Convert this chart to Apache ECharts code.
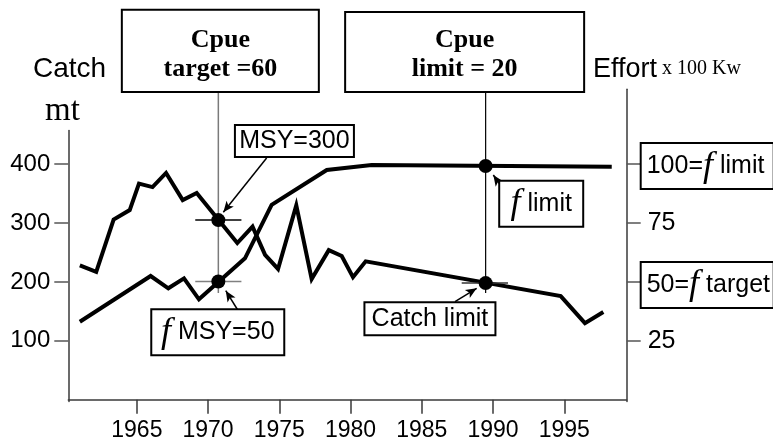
<!DOCTYPE html>
<html>
<head>
<meta charset="utf-8">
<script src="https://cdn.jsdelivr.net/npm/echarts@6.0.0/dist/echarts.min.js"></script>
<style>
html,body{margin:0;padding:0;background:#fff;}
#chart{width:773px;height:448px;}
</style>
</head>
<body>
<div id="chart"></div>
<script>
// ---------- data ----------
// Catch (mt), left axis: [year, catch]
const catchPoints = [
  [1961.0,228],[1962.15,217],[1963.37,306],[1964.5,322],[1965.15,367],[1966.1,361],
  [1967.05,385],[1968.22,339],[1969.2,351],[1972.05,266],[1973.12,294],[1974.0,246],
  [1974.91,222],[1976.19,330],[1977.27,205],[1978.47,254],[1979.38,244],[1980.17,208],
  [1981.06,235],[1994.75,176],[1996.45,130],[1997.74,149]
];
// Effort (x 100 Kw), right axis: [year, effort]
const effortPoints = [
  [1961.0,33.1],[1965.97,52.5],[1967.21,47.3],[1968.31,51.5],[1969.36,42.6],
  [1972.59,60.0],[1974.46,82.7],[1978.33,97.5],[1981.48,99.6],[1998.33,98.9]
];
const yearTicks = [1965,1970,1975,1980,1985,1990,1995];
const catchTicks = [100,200,300,400];
const effortTicks = [25,50,75,100];
const effortPlainLabels = [25,75];
const effortBoxLabels = [100,50];
// reference years (MSY / limit) and reference values
const refYears = [1970.72, 1989.48];
const catchRefValues = [305, 198];      // MSY=300, Catch limit
const effortRefValues = [50.2, 99.2];   // f MSY, f limit
const refLineEffort = [131, 45.3];      // vertical guide from box to below the dots
const cpueTexts = ['{a|Cpue}\n{a|target =60}', '{a|Cpue}\n{a|limit = 20}'];
// annotation anchors (data coords)
const msyLabelAt = [1976.06, 439.4];
const catchLimitLabelAt = [1985.57, 137.6];
const fMsyLabelAt = [1970.68, 28.66];
const fLimitLabelAt = [1993.38, 83.2];
// arrows [tail, head]
const msyArrow = [[1974.11, 410.4],[1971.07, 318.2]];
const catchLimitArrow = [[1987.33, 166.4],[1988.85, 189.2]];
const fMsyArrow = [[1972.08, 38.09],[1971.24, 46.28]];
const fLimitArrow = [[1990.42, 91.86],[1990.02, 95.39]];

// ---------- chart ----------
const X_MIN = 1960.19, X_MAX = 1999.38;
const SANS = 'Liberation Sans', SERIF = 'Liberation Serif';
const axisColor = '#3a3a3a';
const chart = echarts.init(document.getElementById('chart'), null, {renderer:'canvas'});

const lineBase = {type:'line', symbol:'none', showSymbol:false, silent:true, animation:false, clip:false};
const half = 1.62;

const boxLabel = (extra) => Object.assign({
  show:true, position:'inside', color:'#000', fontFamily:SANS, fontSize:25,
  backgroundColor:'#fff', borderColor:'#000', borderWidth:2, align:'center', opacity:1
}, extra);

const fRich = {
  t:{fontFamily:SANS, fontSize:25, lineHeight:38, color:'#000'},
  f:{fontFamily:SERIF, fontStyle:'italic', fontSize:36, lineHeight:38, color:'#000'}
};

const arrowLine = (pair) => [{coord:pair[0], symbol:'none'}, {coord:pair[1], symbol:'arrow'}];
const solidItem = {color:'#000', opacity:1};

chart.setOption({
  animation:false,
  textStyle:{fontFamily:SANS},
  grid:[
    {left:68.3, right:146.3, bottom:46.5, top:130.5},
    {left:68.3, right:146.3, bottom:46.5, top:89.3}
  ],
  xAxis:[
    {type:'value', gridIndex:0, min:X_MIN, max:X_MAX,
     axisLine:{show:true, lineStyle:{color:axisColor, width:1.5}},
     axisTick:{show:true, inside:false, length:14, customValues:yearTicks, lineStyle:{color:axisColor, width:1.5}},
     axisLabel:{show:true, customValues:yearTicks, fontSize:23, color:'#000', margin:18, fontFamily:SANS,
       formatter:(v) => String(Math.round(v))},
     splitLine:{show:false}},
    {type:'value', gridIndex:1, min:X_MIN, max:X_MAX, show:false, splitLine:{show:false}}
  ],
  yAxis:[
    {type:'value', gridIndex:0, position:'left', min:-3, max:457.1,
     axisLine:{show:true, lineStyle:{color:axisColor, width:1.5}},
     axisTick:{show:true, length:14, customValues:catchTicks, lineStyle:{color:'#555', width:1.5}},
     axisLabel:{show:true, customValues:catchTicks, fontSize:24, color:'#000', margin:18, fontFamily:SANS},
     splitLine:{show:false}},
    {type:'value', gridIndex:1, position:'right', min:-0.75, max:131.75,
     axisLine:{show:true, lineStyle:{color:axisColor, width:1.5}},
     axisTick:{show:true, length:14, customValues:effortTicks, lineStyle:{color:'#555', width:1.5}},
     axisLabel:{show:true, customValues:effortPlainLabels, fontSize:25, color:'#000', margin:21, fontFamily:SANS},
     splitLine:{show:false}}
  ],
  graphic:[
    {type:'text', x:33, y:69.6, style:{text:'Catch', font:'28px "Liberation Sans"', fill:'#000', align:'left', verticalAlign:'middle'}},
    {type:'text', x:45, y:111, style:{text:'mt', font:'33px "Liberation Serif"', fill:'#000', align:'left', verticalAlign:'middle'}},
    {type:'text', x:593, y:69.6, style:{text:'Effort', font:'27px "Liberation Sans"', fill:'#000', align:'left', verticalAlign:'middle'}},
    {type:'text', x:662, y:69, style:{text:'x 100 Kw', font:'20px "Liberation Serif"', fill:'#000', align:'left', verticalAlign:'middle'}}
  ],
  series:[
    // vertical guide lines
    Object.assign({}, lineBase, {xAxisIndex:1, yAxisIndex:1, z:2,
      data:[[refYears[0], refLineEffort[0]],[refYears[0], refLineEffort[1]]],
      lineStyle:{color:'#7a7a7a', width:1.5}}),
    Object.assign({}, lineBase, {xAxisIndex:1, yAxisIndex:1, z:2,
      data:[[refYears[1], refLineEffort[0]],[refYears[1], refLineEffort[1]]],
      lineStyle:{color:'#000', width:1.2}}),
    // main lines
    Object.assign({}, lineBase, {name:'Catch', xAxisIndex:0, yAxisIndex:0, z:5, data:catchPoints,
      lineStyle:{color:'#000', width:4, join:'miter'}}),
    Object.assign({}, lineBase, {name:'Effort', xAxisIndex:1, yAxisIndex:1, z:5, data:effortPoints,
      lineStyle:{color:'#000', width:4, join:'miter'}}),
    // crosshairs + arrows (catch axis)
    Object.assign({}, lineBase, {xAxisIndex:0, yAxisIndex:0, z:6,
      data:[[refYears[0]-half, catchRefValues[0]],[refYears[0]+half, catchRefValues[0]]],
      lineStyle:{color:'#000', width:1.5},
      markLine:{silent:true, animation:false, symbolSize:[7,11], label:{show:false},
        lineStyle:{color:'#000', width:1.5, type:'solid'},
        data:[arrowLine(msyArrow), arrowLine(catchLimitArrow)]}}),
    Object.assign({}, lineBase, {xAxisIndex:0, yAxisIndex:0, z:6,
      data:[[refYears[1]-1.68, catchRefValues[1]],[refYears[1]+1.57, catchRefValues[1]]],
      lineStyle:{color:'#333', width:1.5}}),
    // crosshair + arrows (effort axis)
    Object.assign({}, lineBase, {xAxisIndex:1, yAxisIndex:1, z:6,
      data:[[refYears[0]-half, effortRefValues[0]],[refYears[0]+half, effortRefValues[0]]],
      lineStyle:{color:'#808080', width:1.5},
      markLine:{silent:true, animation:false, symbolSize:[7,11], label:{show:false},
        lineStyle:{color:'#000', width:1.5, type:'solid'},
        data:[arrowLine(fMsyArrow), arrowLine(fLimitArrow)]}}),
    // dots
    {type:'scatter', xAxisIndex:0, yAxisIndex:0, z:7, silent:true, symbolSize:14,
     itemStyle:solidItem, data:[[refYears[0], catchRefValues[0]],[refYears[1], catchRefValues[1]]]},
    {type:'scatter', xAxisIndex:1, yAxisIndex:1, z:7, silent:true, symbolSize:14,
     itemStyle:solidItem, data:[[refYears[0], effortRefValues[0]],[refYears[1], effortRefValues[1]]]},
    // Cpue boxes
    {type:'scatter', xAxisIndex:1, yAxisIndex:1, z:8, silent:true, symbolSize:0, clip:false, itemStyle:solidItem,
     data:[
      {value:[refYears[0], refLineEffort[0]], label:{show:true, position:'top', distance:0, offset:[2,0],
        formatter:cpueTexts[0], width:195, padding:[14.7,0,7.6,0], align:'center',
        backgroundColor:'#fff', borderColor:'#000', borderWidth:2,
        rich:{a:{fontFamily:SERIF, fontWeight:'bold', fontSize:26, lineHeight:29, color:'#000'}}}},
      {value:[refYears[1], refLineEffort[0]], label:{show:true, position:'top', distance:0, offset:[-21,0],
        formatter:cpueTexts[1], width:237, padding:[12.7,0,7.3,0], align:'center',
        backgroundColor:'#fff', borderColor:'#000', borderWidth:2,
        rich:{a:{fontFamily:SERIF, fontWeight:'bold', fontSize:26, lineHeight:29, color:'#000'}}}}
     ]},
    // annotation boxes (catch axis)
    {type:'scatter', xAxisIndex:0, yAxisIndex:0, z:8, silent:true, symbolSize:0, clip:false, itemStyle:solidItem,
     data:[
      {value:msyLabelAt, label:boxLabel({formatter:'MSY=300', width:117, lineHeight:27, padding:[1.5,0,1.5,0]})},
      {value:catchLimitLabelAt, label:boxLabel({formatter:'Catch limit', width:129, lineHeight:28, padding:[1.5,0,1.5,0]})}
     ]},
    // annotation boxes (effort axis)
    {type:'scatter', xAxisIndex:1, yAxisIndex:1, z:8, silent:true, symbolSize:0, clip:false, itemStyle:solidItem,
     data:[
      {value:fMsyLabelAt, label:boxLabel({formatter:'{f|f}{t| MSY=50}', width:131, padding:[3,0,3,0], rich:fRich})},
      {value:fLimitLabelAt, label:boxLabel({formatter:'{f|f}{t| limit}', width:82, padding:[3,0,3,0], rich:fRich})},
      {value:[X_MAX, effortBoxLabels[0]], label:boxLabel({position:'right', distance:15, align:'left', offset:[0,2],
        formatter:'{t|100=}{f|f}{t| limit}', width:126, padding:[3,0,3,5], rich:fRich})},
      {value:[X_MAX, effortBoxLabels[1]], label:boxLabel({position:'right', distance:15, align:'left', offset:[0,3],
        formatter:'{t|50=}{f|f}{t| target}', width:126, padding:[3,0,3,5], rich:fRich})}
     ]}
  ]
});
</script>
</body>
</html>
